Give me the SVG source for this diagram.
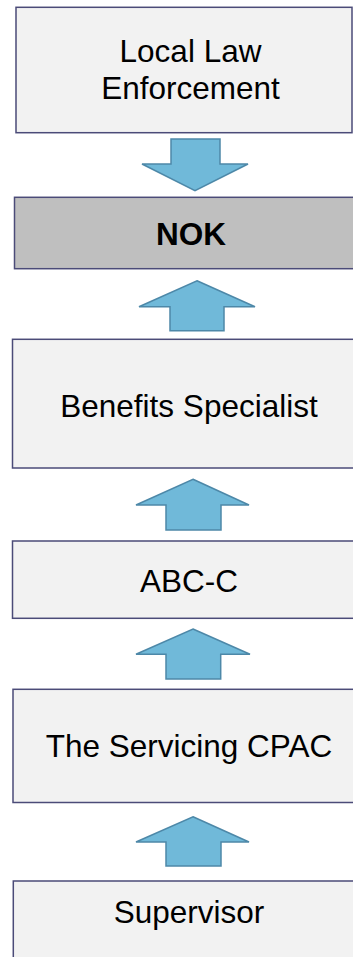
<svg xmlns="http://www.w3.org/2000/svg" width="353" height="957" viewBox="0 0 353 957">
<style>
.box{fill:#f2f2f2;stroke:#4b4b78;stroke-width:1.5}
.nok{fill:#bfbfbf;stroke:#4b4b78;stroke-width:1.5}
.t{font-family:"Liberation Sans",Arial,sans-serif;font-size:31.5px;fill:#000;text-anchor:middle}
.b{font-weight:bold}
.arr{fill:#70b9d9;stroke:#4d88a8;stroke-width:1.5;stroke-linejoin:miter}
</style>
<rect width="353" height="957" fill="#fff"/>
<g id="connectors">
<polygon class="arr" points="171,139 220,139 220,164 248,164 195,190.7 142,164 171,164"/>
<polygon class="arr" points="197,280.7 255,306.7 224,306.7 224,330.7 170,330.7 170,306.7 139,306.7"/>
<polygon class="arr" points="193,479.3 249,505 221,505 221,530 166,530 166,505 136,505"/>
<polygon class="arr" points="193,629 250,654.3 220.7,654.3 220.7,679 166,679 166,654.3 136,654.3"/>
<polygon class="arr" points="193,816.7 249,842 221,842 221,866 166,866 166,842 136,842"/>
</g>
<g id="local-law-enforcement">
<rect class="box" x="16" y="7.3" width="336" height="125.4"/>
<text class="t" x="190.5" y="62.3">Local Law</text>
<text class="t" x="190.5" y="99">Enforcement</text>
</g>
<g id="nok">
<rect class="nok" x="14.5" y="197.3" width="345" height="71.4"/>
<text class="t b" x="191" y="245">NOK</text>
</g>
<g id="benefits-specialist">
<rect class="box" x="12.5" y="339.3" width="350" height="128.7"/>
<text class="t" x="189" y="416.7">Benefits Specialist</text>
</g>
<g id="abc-c">
<rect class="box" x="12.5" y="541" width="350" height="77.3"/>
<text class="t" x="189" y="591.5">ABC-C</text>
</g>
<g id="servicing-cpac">
<rect class="box" x="13" y="689.3" width="350" height="113.2"/>
<text class="t" x="189" y="757.3">The Servicing CPAC</text>
</g>
<g id="supervisor">
<rect class="box" x="13.3" y="881" width="350" height="90"/>
<text class="t" x="189" y="923">Supervisor</text>
</g>
</svg>
